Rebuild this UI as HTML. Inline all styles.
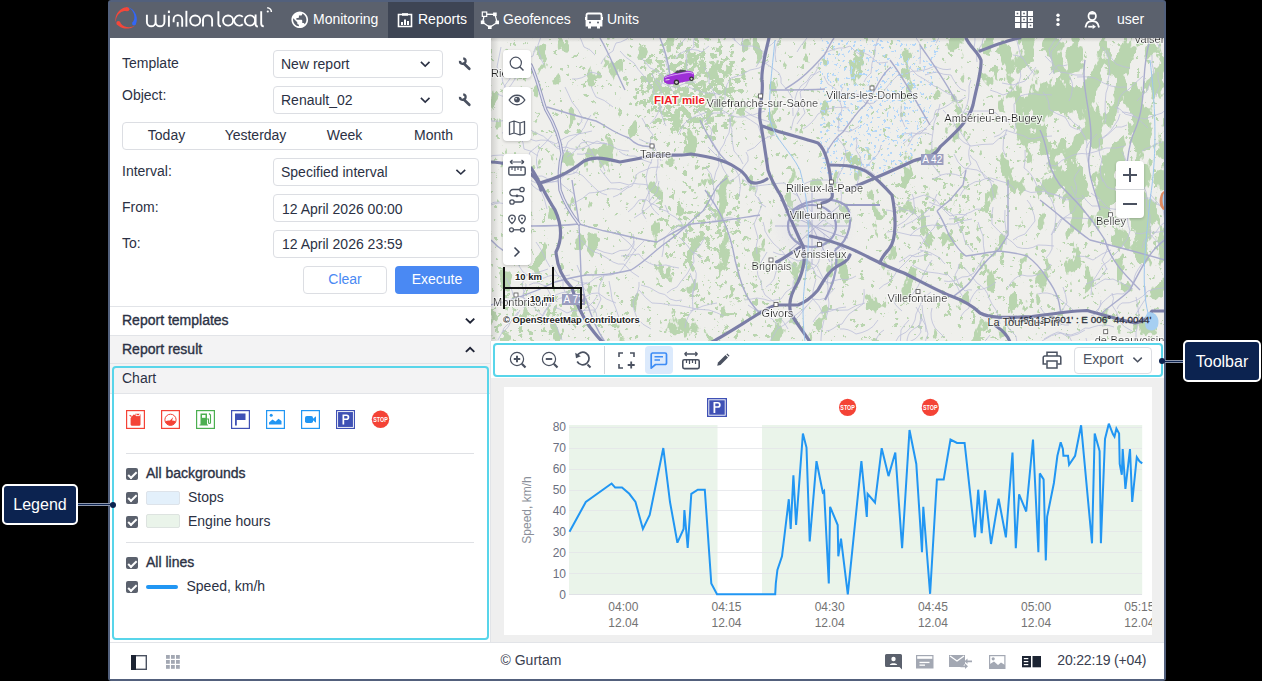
<!DOCTYPE html>
<html><head><meta charset="utf-8">
<style>
*{box-sizing:border-box;margin:0;padding:0}
html,body{width:1262px;height:681px;overflow:hidden;background:#000;font-family:"Liberation Sans",sans-serif;color:#2b3144}
.a{position:absolute}
.t{position:absolute;white-space:nowrap;line-height:1}
.sel{position:absolute;border:1px solid #dcdee3;border-radius:4px;background:#fff}
.chev{position:absolute;width:6px;height:6px;border-right:1.5px solid #2b3144;border-bottom:1.5px solid #2b3144;transform:rotate(45deg)}
.cb{position:absolute;width:12px;height:12px;background:#5b616d;border-radius:2px}
.cb:after{content:"";position:absolute;left:4.2px;top:1.6px;width:3.4px;height:6.6px;border-right:2px solid #fff;border-bottom:2px solid #fff;transform:rotate(45deg)}
.ic{position:absolute;width:19px;height:19px;border:1.5px solid}
.callout{position:absolute;background:#0c2350;border:2px solid #fff;border-radius:5px;color:#fff;font-size:16px}
</style></head>
<body>
<!-- frame -->
<div class="a" style="left:108px;top:0;width:1058px;height:681px;background:#52607c;border-radius:3px"></div>
<div class="a" style="left:110px;top:2px;width:1054px;height:677px;background:#fff"></div>
<!-- header -->
<div class="a" style="left:110px;top:2px;width:1054px;height:36px;background:#5b616d"></div>
<div class="a" style="left:388px;top:2px;width:86px;height:36px;background:#3e4554"></div>
<!-- logo -->
<svg class="a" style="left:0;top:0" width="290" height="38" viewBox="0 0 290 38">
<path d="M127.47 7.16 L126.74 7.20 L126.02 7.29 L125.31 7.42 L124.62 7.60 L123.94 7.81 L123.29 8.06 L122.65 8.35 L122.04 8.67 L121.45 9.02 L120.88 9.40 L120.34 9.81 L119.82 10.24 L119.32 10.70 L118.85 11.18 L118.41 11.68 L117.99 12.20 L117.60 12.75 L117.24 13.32 L116.90 13.90 L116.59 14.51 L116.32 15.13 L116.08 15.78 L115.87 16.44 L115.70 17.11 L115.56 17.80 L115.47 18.50 L115.42 19.21 L115.41 19.93 L115.45 20.66 L115.53 21.39 L115.92 21.28 L115.94 20.55 L116.01 19.84 L116.12 19.15 L116.28 18.49 L116.48 17.84 L116.71 17.22 L116.98 16.63 L117.27 16.07 L117.60 15.54 L117.95 15.04 L118.32 14.57 L118.70 14.12 L119.11 13.71 L119.52 13.33 L119.96 12.98 L120.40 12.65 L120.85 12.36 L121.31 12.09 L121.77 11.85 L122.24 11.64 L122.72 11.46 L123.20 11.30 L123.69 11.18 L124.18 11.09 L124.66 11.03 L125.15 11.00 L125.64 11.01 L126.11 11.05 L126.58 11.15 L127.03 11.34Z" fill="#f4473a"/><circle cx="127.25" cy="9.25" r="2.10" fill="#f4473a"/><path d="M116.60 23.90 L117.04 24.44 L117.51 24.94 L118.01 25.41 L118.52 25.84 L119.06 26.25 L119.61 26.62 L120.18 26.95 L120.76 27.26 L121.35 27.53 L121.95 27.77 L122.56 27.98 L123.17 28.16 L123.79 28.31 L124.42 28.43 L125.04 28.52 L125.68 28.59 L126.31 28.62 L126.95 28.62 L127.59 28.60 L128.23 28.54 L128.87 28.45 L129.51 28.33 L130.14 28.18 L130.78 27.99 L131.40 27.76 L132.02 27.50 L132.63 27.20 L133.22 26.87 L133.80 26.49 L134.36 26.08 L134.07 25.80 L133.46 26.13 L132.85 26.41 L132.23 26.64 L131.60 26.83 L130.98 26.98 L130.36 27.09 L129.75 27.16 L129.14 27.20 L128.55 27.20 L127.97 27.17 L127.40 27.11 L126.85 27.02 L126.31 26.91 L125.79 26.77 L125.28 26.61 L124.79 26.42 L124.32 26.22 L123.86 26.00 L123.42 25.75 L123.00 25.49 L122.59 25.21 L122.21 24.92 L121.84 24.60 L121.50 24.27 L121.18 23.92 L120.88 23.56 L120.61 23.18 L120.38 22.78 L120.18 22.36 L120.06 21.90Z" fill="#f4473a"/><circle cx="118.33" cy="22.90" r="2.00" fill="#f4473a"/><path d="M135.59 24.56 L135.90 23.89 L136.16 23.20 L136.38 22.50 L136.56 21.79 L136.68 21.08 L136.77 20.37 L136.81 19.66 L136.81 18.96 L136.77 18.26 L136.70 17.57 L136.58 16.89 L136.43 16.22 L136.25 15.56 L136.03 14.91 L135.78 14.28 L135.50 13.65 L135.18 13.05 L134.84 12.46 L134.46 11.88 L134.04 11.33 L133.60 10.79 L133.13 10.28 L132.62 9.79 L132.08 9.33 L131.51 8.90 L130.91 8.50 L130.29 8.13 L129.63 7.80 L128.95 7.51 L128.24 7.27 L128.19 7.57 L128.86 7.90 L129.48 8.27 L130.07 8.67 L130.62 9.11 L131.14 9.58 L131.61 10.06 L132.04 10.57 L132.43 11.09 L132.79 11.63 L133.10 12.18 L133.38 12.73 L133.62 13.29 L133.82 13.85 L134.00 14.41 L134.13 14.97 L134.24 15.54 L134.31 16.09 L134.36 16.65 L134.37 17.19 L134.35 17.74 L134.31 18.27 L134.23 18.80 L134.12 19.32 L133.99 19.82 L133.82 20.31 L133.62 20.79 L133.39 21.25 L133.12 21.69 L132.81 22.09 L132.43 22.44Z" fill="#3366f6"/><circle cx="134.01" cy="23.50" r="1.90" fill="#3366f6"/>
<g fill="none" stroke="#fff" stroke-width="1.9">
<path d="M146.9 14.7V21.9A4.3 4.3 0 0 0 155.6 21.9V14.7M155.6 21.9A4.4 4.4 0 0 0 164.4 21.9V14.7"/>
<path d="M168.9 15.6V26.7"/>
<path d="M173.6 22.2V19.4A4.3 4.3 0 0 1 182.2 19.4V26.7"/>
<path d="M177.7 22V26.7"/>
<path d="M186.4 10.8V26.7"/>
<circle cx="195.2" cy="20.6" r="5.05"/>
<path d="M203 26.6V19.3A4.6 4.6 0 0 1 212.1 19.3V26.6"/>
<path d="M218.4 11.3V23.4A3 3 0 0 0 221 26.4"/>
<circle cx="228.1" cy="20.6" r="5.05"/>
<path d="M242.8 16.9A5.05 5.05 0 1 0 242.8 24.3"/>
<circle cx="250" cy="20.5" r="5.15"/>
<path d="M255.6 14.6V24.2C255.6 25.6 256.4 26.4 257.9 26.6"/>
<path d="M261.2 11.3V23.4A3 3 0 0 0 263.8 26.4"/>
<path d="M267.2 7.7A4.4 4.4 0 0 1 271.4 12" stroke-width="1.5"/>
</g>
<rect x="167.9" y="10.6" width="2" height="2.4" fill="#fff"/>
<circle cx="267.8" cy="11.5" r="1.1" fill="#fff"/>
</svg>
<!-- tabs -->
<svg class="a" style="left:291.3px;top:10.8px" width="17.5" height="17.5" viewBox="1.5 1.5 21 21"><path fill="#fff" d="M12 2C6.48 2 2 6.48 2 12s4.48 10 10 10 10-4.48 10-10S17.52 2 12 2zm-1 17.93c-3.95-.49-7-3.85-7-7.93 0-.62.08-1.21.21-1.79L9 15v1c0 1.1.9 2 2 2v1.93zm6.9-2.54c-.26-.81-1-1.39-1.9-1.39h-1v-3c0-.55-.45-1-1-1H8v-2h2c.55 0 1-.45 1-1V7h2c1.1 0 2-.9 2-2v-.41c2.93 1.19 5 4.06 5 7.41 0 2.08-.8 3.97-2.1 5.39z"/></svg>
<div class="t" style="left:313px;top:12px;font-size:14px;color:#fff">Monitoring</div>
<svg class="a" style="left:397px;top:11px" width="16" height="17" viewBox="0 0 16 17"><path d="M1.5 3.5h13v12h-13z" stroke="#fff" stroke-width="1.6" fill="none"/><path d="M5 2.2h6v2.5H5z" fill="#fff"/><rect x="4" y="11" width="2" height="3" fill="#fff"/><rect x="7" y="8.5" width="2" height="5.5" fill="#fff"/><rect x="10" y="10" width="2" height="4" fill="#fff"/></svg>
<div class="t" style="left:418px;top:12px;font-size:14px;color:#fff">Reports</div>
<svg class="a" style="left:478px;top:8px" width="24" height="24" viewBox="478 8 24 24"><path d="M484.5 14.2 L494.9 14.3 L497.2 22.4 L489.8 27.2 L482.6 22.3 Z" fill="none" stroke="#fff" stroke-width="1.25"/><rect x="482.3" y="12" width="4.4" height="4.4" fill="#5b616d" stroke="#fff" stroke-width="1.2"/><rect x="493.1" y="12.5" width="3.6" height="3.6" fill="#fff"/><rect x="495.4" y="20.6" width="3.6" height="3.6" fill="#fff"/><rect x="488" y="25.4" width="3.6" height="3.6" fill="#fff"/><rect x="480.8" y="20.5" width="3.6" height="3.6" fill="#fff"/></svg>
<div class="t" style="left:503px;top:12px;font-size:14px;color:#fff">Geofences</div>
<svg class="a" style="left:585px;top:12px" width="18" height="17" viewBox="0 0 18 17"><path d="M3 1.5h12a1.5 1.5 0 0 1 1.5 1.5v10.5h-15V3A1.5 1.5 0 0 1 3 1.5z" stroke="#fff" stroke-width="1.8" fill="none"/><rect x="1.5" y="8" width="15" height="5.5" fill="#fff"/><rect x="3" y="13" width="3" height="3.5" fill="#fff"/><rect x="12" y="13" width="3" height="3.5" fill="#fff"/><rect x="0" y="5" width="1.5" height="3" fill="#fff"/><rect x="16.5" y="5" width="1.5" height="3" fill="#fff"/><circle cx="5" cy="10.5" r="1" fill="#5b616d"/><circle cx="13" cy="10.5" r="1" fill="#5b616d"/></svg>
<div class="t" style="left:607px;top:12px;font-size:14px;color:#fff">Units</div>
<!-- right header -->
<svg class="a" style="left:1015px;top:11px" width="18" height="17" viewBox="0 0 18 17">
 <g fill="#fff">
 <rect x="0" y="0" width="5" height="5"/><rect x="6.5" y="0" width="5" height="5"/><rect x="13" y="0" width="5" height="5"/>
 <rect x="0" y="6" width="5" height="5"/><rect x="6.5" y="6" width="5" height="5"/><rect x="13" y="6" width="5" height="5"/>
 <rect x="0" y="12" width="5" height="5"/><rect x="6.5" y="12" width="5" height="5"/><rect x="13" y="12" width="5" height="5"/>
 </g>
 <g fill="#5b616d"><rect x="1.7" y="1.7" width="1.6" height="1.6"/><rect x="8.2" y="1.7" width="1.6" height="1.6"/><rect x="8.2" y="7.7" width="1.6" height="1.6"/><rect x="14.7" y="7.7" width="1.6" height="1.6"/><rect x="14.7" y="13.7" width="1.6" height="1.6"/></g>
</svg>
<svg class="a" style="left:1054px;top:12px" width="8" height="16" viewBox="0 0 8 16"><circle cx="4" cy="3.3" r="1.7" fill="#fff"/><circle cx="4" cy="7.8" r="1.7" fill="#fff"/><circle cx="4" cy="12.4" r="1.7" fill="#fff"/></svg>
<svg class="a" style="left:1080px;top:8px" width="24" height="24" viewBox="1080 8 24 24"><ellipse cx="1092.2" cy="16" rx="3.7" ry="4.2" fill="none" stroke="#fff" stroke-width="1.8"/><path d="M1088.6 14.5 C1089 11.5 1095.4 11.5 1095.8 14.5z" fill="#fff"/><path d="M1085.4 27.6 L1086.6 23.8 C1087.6 21.8 1089.6 21.1 1092.2 21.1 C1094.8 21.1 1096.8 21.8 1097.8 23.8 L1099 27.6" fill="none" stroke="#fff" stroke-width="1.8"/><rect x="1088.2" y="25.8" width="4.6" height="1.8" fill="#fff"/><path d="M1092.6 24.3 L1096 26.7 L1092.6 29.1z" fill="#fff"/></svg>
<div class="t" style="left:1117px;top:12px;font-size:14px;color:#fff">user</div>
<!-- left panel form -->
<div class="t" style="left:122px;top:56px;font-size:14px">Template</div>
<div class="t" style="left:122px;top:87.5px;font-size:14px">Object:</div>
<div class="sel" style="left:273px;top:50px;width:170px;height:28px"></div>
<div class="t" style="left:281px;top:57px;font-size:14px">New report</div>
<svg class="a" style="left:418px;top:58px" width="13" height="10"><path d="M2.90 3.90 L7.20 8.10 L11.50 3.90" fill="none" stroke="#2b3144" stroke-width="1.6"/></svg>
<div class="sel" style="left:273px;top:86px;width:170px;height:28px"></div>
<div class="t" style="left:281px;top:93px;font-size:14px">Renault_02</div>
<svg class="a" style="left:418px;top:94px" width="13" height="10"><path d="M2.90 3.90 L7.20 8.10 L11.50 3.90" fill="none" stroke="#2b3144" stroke-width="1.6"/></svg>
<svg class="a" style="left:455px;top:55px" width="20" height="18" viewBox="455 55 20 18"><path d="M460 60.8 A2.8 2.8 0 1 0 463.2 58.3" fill="none" stroke="#4a5160" stroke-width="2.3"/><path d="M463.8 63.6 L469.3 68.8" stroke="#4a5160" stroke-width="2.7" stroke-linecap="round"/></svg>
<svg class="a" style="left:455px;top:91px" width="20" height="18" viewBox="455 55 20 18"><path d="M460 60.8 A2.8 2.8 0 1 0 463.2 58.3" fill="none" stroke="#4a5160" stroke-width="2.3"/><path d="M463.8 63.6 L469.3 68.8" stroke="#4a5160" stroke-width="2.7" stroke-linecap="round"/></svg>
<div class="sel" style="left:122px;top:122px;width:356px;height:28px"></div>
<div class="t" style="left:122px;top:128px;width:89px;text-align:center;font-size:14px">Today</div>
<div class="t" style="left:211px;top:128px;width:89px;text-align:center;font-size:14px">Yesterday</div>
<div class="t" style="left:300px;top:128px;width:89px;text-align:center;font-size:14px">Week</div>
<div class="t" style="left:389px;top:128px;width:89px;text-align:center;font-size:14px">Month</div>
<div class="t" style="left:122px;top:164.4px;font-size:14px">Interval:</div>
<div class="sel" style="left:273px;top:158px;width:206px;height:28px"></div>
<div class="t" style="left:281px;top:165.4px;font-size:14px">Specified interval</div>
<svg class="a" style="left:454px;top:166px" width="13" height="10"><path d="M2.40 3.80 L6.80 8.00 L11.20 3.80" fill="none" stroke="#2b3144" stroke-width="1.6"/></svg>
<div class="t" style="left:122px;top:200.2px;font-size:14px">From:</div>
<div class="sel" style="left:273px;top:194px;width:206px;height:28px"></div>
<div class="t" style="left:282px;top:201.8px;font-size:14px">12 April 2026 00:00</div>
<div class="t" style="left:122px;top:235.5px;font-size:14px">To:</div>
<div class="sel" style="left:273px;top:230px;width:206px;height:28px"></div>
<div class="t" style="left:282px;top:237px;font-size:14px">12 April 2026 23:59</div>
<div class="sel" style="left:303px;top:266px;width:84px;height:28px"></div>
<div class="t" style="left:303px;top:272px;width:84px;text-align:center;font-size:14px;color:#4a89f3">Clear</div>
<div class="a" style="left:395px;top:266px;width:84px;height:28px;background:#4a89f3;border-radius:4px"></div>
<div class="t" style="left:395px;top:272px;width:84px;text-align:center;font-size:14px;color:#fff">Execute</div>
<!-- sections -->
<div class="a" style="left:110px;top:306px;width:381px;height:1px;background:#e2e4e8"></div>
<div class="t" style="left:122px;top:313.2px;font-size:14px;-webkit-text-stroke:0.35px #2b3144">Report templates</div>
<svg class="a" style="left:463px;top:315px" width="13" height="10"><path d="M2.90 3.60 L7.10 7.60 L11.30 3.60" fill="none" stroke="#1f2436" stroke-width="1.9"/></svg>
<div class="a" style="left:110px;top:335px;width:381px;height:29px;background:#f3f3f4;border-top:1px solid #e2e4e8;border-bottom:1px solid #e2e4e8"></div>
<div class="t" style="left:122px;top:342px;font-size:14px;-webkit-text-stroke:0.35px #2b3144">Report result</div>
<svg class="a" style="left:463px;top:344px" width="13" height="10"><path d="M2.90 7.90 L7.10 3.90 L11.30 7.90" fill="none" stroke="#1f2436" stroke-width="1.9"/></svg>
<div class="a" style="left:110px;top:364px;width:381px;height:30px;background:#f3f3f4;border-bottom:1px solid #e2e4e8"></div>
<div class="t" style="left:122px;top:370.8px;font-size:14px">Chart</div>
<div class="a" style="left:490px;top:341px;width:1px;height:302px;background:#e2e4e8"></div>
<!-- legend icons -->
<svg class="a" style="left:126px;top:410px" width="19" height="19" viewBox="0 0 19 19"><rect x="0.6" y="0.6" width="17.8" height="17.8" fill="none" stroke="#f44336" stroke-width="1.2"/><path d="M4.6 8 L7.6 4.6 L8.6 4.9 L9.3 3.8 H13.4 A1.1 1.1 0 0 1 14.5 4.9 V14.6 A1.1 1.1 0 0 1 13.4 15.7 H5.7 A1.1 1.1 0 0 1 4.6 14.6z" fill="#f44336"/><path d="M10 3.8 V5.6 H13.6 V3.8" stroke="#fff" stroke-width="0.9" fill="none"/><path d="M3.6 5.3 L5.6 6.5" stroke="#f44336" stroke-width="1.2"/></svg>
<svg class="a" style="left:161px;top:410px" width="19" height="19" viewBox="0 0 19 19"><rect x="0.6" y="0.6" width="17.8" height="17.8" fill="none" stroke="#f44336" stroke-width="1.2"/><circle cx="9.5" cy="9.8" r="5.6" fill="none" stroke="#f44336" stroke-width="1"/><path d="M4.2 11.6 Q6.5 10.2 9 10.6 L12.3 6.9 L11 10.4 Q13.5 10.4 14.8 11.6 A5.6 5.6 0 0 1 4.2 11.6z" fill="#f44336"/></svg>
<svg class="a" style="left:196px;top:410px" width="19" height="19" viewBox="0 0 19 19"><rect x="0.6" y="0.6" width="17.8" height="17.8" fill="none" stroke="#4caf50" stroke-width="1.2"/><path d="M4.5 3.5 H11 V14.5 H12 V15.5 H3.5 V14.5 H4.5z" fill="#4caf50"/><rect x="6" y="5" width="3.5" height="2.8" fill="#fff"/><path d="M13 3.5 L14.5 5 V12.5 A1 1 0 0 1 12.5 12.5 V9 H11" stroke="#4caf50" stroke-width="1.1" fill="none"/></svg>
<svg class="a" style="left:231px;top:410px" width="19" height="19" viewBox="0 0 19 19"><rect x="0.6" y="0.6" width="17.8" height="17.8" fill="none" stroke="#3f51b5" stroke-width="1.2"/><path d="M4 3.5 H14.5 V10 H5.8 V15.5 H4z" fill="#3f51b5"/></svg>
<svg class="a" style="left:266px;top:410px" width="19" height="19" viewBox="0 0 19 19"><rect x="0.6" y="0.6" width="17.8" height="17.8" fill="none" stroke="#2196f3" stroke-width="1.2"/><circle cx="5.2" cy="5.2" r="1.5" fill="#2196f3"/><path d="M3 14.5 V12.5 L6.5 9.5 L9.5 11.5 L12.5 8.8 L15.5 11 V14.5z" fill="#2196f3"/></svg>
<svg class="a" style="left:301px;top:410px" width="19" height="19" viewBox="0 0 19 19"><rect x="0.6" y="0.6" width="17.8" height="17.8" fill="none" stroke="#2196f3" stroke-width="1.2"/><rect x="4" y="6" width="8" height="7" rx="1.8" fill="#2196f3"/><path d="M11 9.5 L15 6.2 V12.8z" fill="#2196f3"/></svg>
<svg class="a" style="left:336px;top:410px" width="19" height="19" viewBox="0 0 19 19"><rect x="0" y="0" width="19" height="19" fill="#3f51b5"/><rect x="1.6" y="1.6" width="15.8" height="15.8" fill="none" stroke="#fff" stroke-width="0.9"/><path d="M6.5 14.5 V4.5 H10.5 A2.8 2.8 0 0 1 10.5 10.1 H8.2 V14.5z M8.2 6 V8.6 H10.3 A1.3 1.3 0 0 0 10.3 6z" fill="#fff" fill-rule="evenodd"/></svg>
<svg class="a" style="left:371px;top:410px" width="19" height="19" viewBox="0 0 19 19"><circle cx="9.5" cy="9.3" r="8.7" fill="#f44336"/><text x="0" y="0" transform="translate(9.5 11.8) scale(0.72 1)" text-anchor="middle" font-family="Liberation Sans" font-weight="700" font-size="7.5" fill="#fff">STOP</text></svg>
<!-- legend list -->
<div class="a" style="left:126px;top:453px;width:348px;height:1px;background:#dfe1e5"></div>
<div class="cb" style="left:126px;top:468px"></div>
<div class="t" style="left:146px;top:466px;font-size:14px;-webkit-text-stroke:0.35px #2b3144">All backgrounds</div>
<div class="cb" style="left:126px;top:491.8px"></div>
<div class="a" style="left:146px;top:491px;width:34px;height:14px;background:#e3f0fb;border:1px solid #dde3ea;border-radius:2px"></div>
<div class="t" style="left:188px;top:489.8px;font-size:14px">Stops</div>
<div class="cb" style="left:126px;top:515.5px"></div>
<div class="a" style="left:146px;top:514px;width:34px;height:14px;background:#eaf4ea;border:1px solid #dde3e0;border-radius:2px"></div>
<div class="t" style="left:188px;top:513.6px;font-size:14px">Engine hours</div>
<div class="a" style="left:126px;top:542px;width:348px;height:1px;background:#dfe1e5"></div>
<div class="cb" style="left:126px;top:557px"></div>
<div class="t" style="left:146px;top:555px;font-size:14px;-webkit-text-stroke:0.35px #2b3144">All lines</div>
<div class="cb" style="left:126px;top:581px"></div>
<div class="a" style="left:146px;top:585px;width:32px;height:4px;background:#2196f3;border-radius:2px"></div>
<div class="t" style="left:186.5px;top:578.8px;font-size:14px">Speed, km/h</div>
<!-- footer -->
<div class="a" style="left:110px;top:642px;width:1054px;height:1px;background:#e2e4e8"></div>
<svg class="a" style="left:131px;top:654.5px" width="16" height="15" viewBox="0 0 16 15"><rect x="0.7" y="0.7" width="14.6" height="13.6" fill="none" stroke="#4a5160" stroke-width="1.4"/><rect x="0" y="0" width="5" height="15" fill="#1c2433"/></svg>
<svg class="a" style="left:166px;top:655px" width="14" height="14" viewBox="0 0 14 14"><g fill="#a3a8b3"><rect x="0" y="0" width="3.8" height="3.8"/><rect x="5" y="0" width="3.8" height="3.8"/><rect x="10" y="0" width="3.8" height="3.8"/><rect x="0" y="5" width="3.8" height="3.8"/><rect x="5" y="5" width="3.8" height="3.8"/><rect x="10" y="5" width="3.8" height="3.8"/><rect x="0" y="10" width="3.8" height="3.8"/><rect x="5" y="10" width="3.8" height="3.8"/><rect x="10" y="10" width="3.8" height="3.8"/></g></svg>
<div class="t" style="left:500.5px;top:653.2px;font-size:14px;color:#3a4050">© Gurtam</div>
<svg class="a" style="left:885px;top:653.5px" width="18" height="16" viewBox="0 0 18 16"><path d="M1.5 0 H15.5 A1.5 1.5 0 0 1 17 1.5 V15.5 L14.5 13 H1.5 A1.5 1.5 0 0 1 0 11.5 V1.5 A1.5 1.5 0 0 1 1.5 0z" fill="#5b616d"/><circle cx="8.5" cy="5" r="2.2" fill="#fff"/><path d="M4.8 11 C4.8 8.5 12.2 8.5 12.2 11z" fill="#fff"/></svg>
<svg class="a" style="left:916px;top:655px" width="18" height="14" viewBox="0 0 18 14"><rect x="0" y="0" width="17.5" height="13.5" fill="#a3a8b3"/><rect x="1.2" y="1.2" width="15.1" height="2.6" fill="#fff"/><rect x="3.5" y="6.8" width="10" height="1.3" fill="#fff"/><rect x="3.5" y="9.5" width="5.5" height="1.3" fill="#fff"/></svg>
<svg class="a" style="left:949px;top:655px" width="24" height="14" viewBox="0 0 24 14"><path d="M0 0 H16 V9 L13 12 H0z" fill="#a3a8b3"/><path d="M1 1 L8 6 L15 1" stroke="#fff" stroke-width="1.3" fill="none"/><path d="M11.5 10.5 H16 V8.5 L19 11.3 L16 14 V12.2 H11.5z" fill="#a3a8b3"/><path d="M23 5.5 H18.5 V3.5 L15.5 6.3 L18.5 9 V7.2 H23z" fill="#a3a8b3"/></svg>
<svg class="a" style="left:988.5px;top:655px" width="17" height="14" viewBox="0 0 17 14"><rect x="0.6" y="0.6" width="15.3" height="12.8" fill="none" stroke="#a3a8b3" stroke-width="1.2"/><circle cx="4.2" cy="3.8" r="1.6" fill="#a3a8b3"/><path d="M1 13 V9 L5 6.5 L9 10 L12 7.5 L16 10 V13z" fill="#a3a8b3"/></svg>
<svg class="a" style="left:1022px;top:655.5px" width="19" height="12" viewBox="0 0 19 12"><rect x="0" y="0" width="9" height="11.3" fill="#1c2433"/><rect x="10.5" y="0" width="8.5" height="11.3" fill="#1c2433"/><rect x="1.8" y="2" width="4.5" height="1.2" fill="#fff"/><rect x="1.8" y="5" width="4.5" height="1.2" fill="#fff"/><rect x="1.8" y="8" width="4.5" height="1.2" fill="#fff"/></svg>
<div class="t" style="left:1057.3px;top:653.2px;font-size:14px;color:#3a4050;letter-spacing:-0.18px">20:22:19 (+04)</div>
<svg class="a" style="left:491px;top:38px" width="673" height="304" viewBox="491 38 673 304">
<defs>
<filter id="gd" x="491" y="38" width="673" height="304" filterUnits="userSpaceOnUse" color-interpolation-filters="sRGB">
<feGaussianBlur in="SourceGraphic" stdDeviation="14" result="dens"/>
<feTurbulence type="fractalNoise" baseFrequency="0.17" numOctaves="4" seed="4"/>
<feColorMatrix type="matrix" values="1 0 0 0 0  1 0 0 0 0  1 0 0 0 0  0 0 0 0 1" result="noise"/>
<feComposite in="noise" in2="dens" operator="arithmetic" k1="0" k2="1" k3="1" k4="0"/>
<feColorMatrix type="matrix" values="0 0 0 0 0.725  0 0 0 0 0.835  0 0 0 0 0.685  32 0 0 0 -22.2"/>
</filter>
<filter id="g2" x="491" y="38" width="673" height="304" filterUnits="userSpaceOnUse" color-interpolation-filters="sRGB">
<feGaussianBlur in="SourceGraphic" stdDeviation="18" result="dens"/>
<feTurbulence type="fractalNoise" baseFrequency="0.06 0.035" numOctaves="4" seed="9"/>
<feColorMatrix type="matrix" values="1 0 0 0 0  1 0 0 0 0  1 0 0 0 0  0 0 0 0 1" result="noise"/>
<feComposite in="noise" in2="dens" operator="arithmetic" k1="0" k2="1" k3="1" k4="0"/>
<feColorMatrix type="matrix" values="0 0 0 0 0.725  0 0 0 0 0.835  0 0 0 0 0.685  32 0 0 0 -20.8"/>
</filter>
<filter id="g3" x="0" y="0" width="100%" height="100%" color-interpolation-filters="sRGB"><feTurbulence type="fractalNoise" baseFrequency="0.3" numOctaves="2" seed="2"/><feColorMatrix type="matrix" values="0 0 0 0 0.70  0 0 0 0 0.84  0 0 0 0 0.98  30 0 0 0 -19.2"/></filter>
<filter id="blur8" x="-50%" y="-50%" width="200%" height="200%"><feGaussianBlur stdDeviation="8"/></filter>
<filter id="halo"><feMorphology in="SourceAlpha" operator="dilate" radius="1.1" result="d"/><feFlood flood-color="#fff" flood-opacity="0.8"/><feComposite in2="d" operator="in"/><feMerge><feMergeNode/><feMergeNode in="SourceGraphic"/></feMerge></filter>
<clipPath id="c1"><path d="M491 38H990V342H491z"/></clipPath>
<clipPath id="c2"><path d="M985 38H1165V270C1120 250 1060 230 1030 190 1010 150 995 100 985 38z"/></clipPath>
<clipPath id="c4"><path d="M615 38H745V135C720 130 690 125 650 115 630 95 618 60 615 38z M950 170C990 150 1040 190 1060 230 1040 250 1000 240 960 210z"/></clipPath>
<clipPath id="c3"><path d="M820 40H940C935 90 930 140 900 175H820z"/></clipPath>
</defs>
<rect x="491" y="38" width="673" height="304" fill="#efefec"/>
<g filter="url(#gd)"><rect x="491" y="38" width="673" height="304" fill="#000"/><ellipse cx="690" cy="90" rx="55" ry="48" fill="rgb(66,0,0)"/><ellipse cx="530" cy="320" rx="60" ry="35" fill="rgb(22,0,0)"/><ellipse cx="940" cy="215" rx="60" ry="45" fill="rgb(22,0,0)"/><ellipse cx="705" cy="225" rx="45" ry="35" fill="rgb(42,0,0)"/><ellipse cx="730" cy="300" rx="60" ry="45" fill="rgb(20,0,0)"/><ellipse cx="1000" cy="300" rx="70" ry="40" fill="rgb(14,0,0)"/></g>
<g filter="url(#g2)"><rect x="491" y="38" width="673" height="304" fill="#000"/><path d="M1000 20H1185V290C1130 270 1070 240 1040 200 1015 160 1000 100 990 20z" fill="rgb(48,0,0)"/></g>
<g clip-path="url(#c3)"><rect x="491" y="38" width="673" height="304" filter="url(#g3)"/></g>
<g fill="none" stroke="#bcbfd9" stroke-width="0.8"><path d="M709 84 Q709 80 709 75 Q706 71 704 67"/><path d="M862 56 Q854 51 850 46 Q844 49 839 48 Q831 50 824 53"/><path d="M951 69 Q943 71 935 66 Q927 70 919 71 Q912 70 905 74"/><path d="M962 112 Q957 103 955 96 Q949 95 942 90 Q939 87 934 86 Q925 79 917 75 Q911 68 905 64"/><path d="M1128 182 Q1127 176 1126 170 Q1128 161 1122 152"/><path d="M1125 146 Q1117 149 1106 148 Q1099 151 1087 154 Q1077 152 1067 158 Q1062 159 1056 166 Q1051 166 1046 163"/><path d="M648 185 Q643 184 638 184 Q634 182 629 185 Q620 181 611 183 Q606 177 600 169"/><path d="M757 184 Q758 190 755 195 Q758 197 760 202 Q762 205 766 207"/><path d="M591 115 Q589 117 586 123 Q585 127 580 133 Q573 138 568 142 Q565 151 559 161"/><path d="M1107 268 Q1104 274 1100 278 Q1092 282 1086 284"/><path d="M641 285 Q649 286 659 293 Q665 293 670 299 Q676 302 682 300"/><path d="M792 323 Q796 319 799 316 Q807 305 813 299 Q819 301 826 298 Q831 292 835 288"/><path d="M1090 170 Q1087 160 1086 149 Q1089 140 1097 134"/><path d="M593 313 Q597 309 601 299 Q597 292 600 284 Q603 279 604 275"/><path d="M1156 97 Q1156 92 1160 86 Q1157 79 1158 72"/><path d="M729 177 Q722 170 720 159 Q719 150 712 141 Q710 136 712 131 Q711 127 707 124 Q705 119 696 109"/><path d="M620 51 Q624 57 634 63 Q638 70 643 75 Q648 83 653 87 Q653 95 661 106 Q660 114 666 126"/><path d="M573 172 Q578 172 583 176 Q589 183 598 191 Q602 194 607 195"/><path d="M554 307 Q561 309 567 313 Q574 309 580 311 Q586 310 594 310"/><path d="M912 194 Q914 197 914 203 Q916 209 912 214 Q906 222 897 226"/><path d="M1111 211 Q1102 202 1098 197 Q1094 196 1091 193"/><path d="M901 106 Q901 111 901 118 Q903 122 905 127"/><path d="M565 87 Q568 93 572 102 Q579 110 582 117 Q583 121 579 125"/><path d="M1150 194 Q1157 202 1163 209 Q1164 215 1165 222 Q1159 226 1156 232 Q1151 238 1145 239 Q1143 244 1142 248"/><path d="M601 64 Q604 56 613 51 Q614 47 616 43 Q620 43 627 39 Q630 34 634 31"/><path d="M679 237 Q688 245 692 252 Q697 253 702 259"/><path d="M1136 297 Q1138 306 1139 315 Q1137 320 1138 325 Q1135 332 1136 339 Q1129 343 1122 351 Q1120 360 1122 369"/><path d="M1135 233 Q1141 235 1148 232 Q1157 233 1165 231"/><path d="M821 39 Q824 35 826 32 Q826 26 824 20"/><path d="M990 335 Q984 344 975 350 Q970 353 966 355 Q957 361 949 360 Q942 365 935 365 Q929 371 925 376"/><path d="M805 271 Q809 269 814 268 Q820 263 820 254 Q826 244 824 234"/><path d="M552 265 Q557 275 563 281 Q562 287 565 292 Q569 294 572 296 Q577 296 582 298"/><path d="M1057 39 Q1053 28 1044 22 Q1038 17 1033 16 Q1027 13 1022 8 Q1018 9 1013 9 Q1008 5 1004 2"/><path d="M619 151 Q625 157 635 156 Q644 161 652 163"/><path d="M795 267 Q789 261 782 251 Q776 246 773 243 Q768 237 765 231 Q765 228 763 222"/><path d="M828 285 Q822 278 817 266 Q813 265 809 261 Q803 259 798 261 Q791 258 785 255 Q779 255 773 252"/><path d="M1143 76 Q1136 82 1128 90 Q1122 92 1119 99 Q1117 105 1118 113"/><path d="M1144 187 Q1147 192 1147 198 Q1145 207 1150 215 Q1150 224 1150 234 Q1158 243 1163 247 Q1168 252 1169 258"/><path d="M920 250 Q930 251 940 258 Q942 261 945 264"/><path d="M679 134 Q680 131 684 124 Q687 120 694 117 Q700 115 707 112"/><path d="M1115 107 Q1120 108 1125 114 Q1135 117 1145 119 Q1152 116 1162 113 Q1167 108 1178 100"/><path d="M902 311 Q898 308 895 304 Q892 299 895 294"/><path d="M756 311 Q767 309 777 314 Q785 323 788 329"/><path d="M746 152 Q749 156 748 161 Q742 168 740 174 Q734 180 730 181"/><path d="M966 97 Q960 102 954 101 Q944 109 936 110 Q934 114 934 118 Q928 127 920 134 Q912 132 904 134"/><path d="M704 122 Q708 120 712 113 Q718 113 725 113"/><path d="M824 320 Q821 330 821 339 Q820 344 823 352 Q830 355 835 366 Q843 369 851 366"/><path d="M1086 338 Q1086 345 1092 351 Q1097 355 1101 356"/><path d="M649 202 Q652 196 657 192 Q658 186 659 181"/><path d="M650 124 Q656 118 658 113 Q662 105 662 94 Q660 87 655 81"/><path d="M1107 50 Q1109 56 1116 64 Q1123 67 1130 68"/><path d="M1013 240 Q1018 236 1025 234 Q1031 226 1035 221 Q1035 216 1032 209 Q1031 204 1027 200"/><path d="M534 69 Q530 70 525 72 Q521 73 515 79 Q511 86 505 92"/><path d="M1074 341 Q1068 347 1067 353 Q1069 358 1068 362 Q1074 369 1074 380"/><path d="M587 283 Q582 286 577 285 Q574 288 571 292 Q562 291 552 297 Q549 306 543 316"/><path d="M920 64 Q921 54 920 44 Q917 40 913 32 Q913 27 915 22"/><path d="M1145 286 Q1146 292 1146 298 Q1140 307 1136 314"/><path d="M659 156 Q657 160 658 164 Q655 172 657 181 Q655 187 649 192 Q645 200 642 210 Q642 214 646 219"/><path d="M977 62 Q975 53 982 44 Q983 35 990 29 Q996 28 1001 24 Q1010 27 1020 23 Q1025 25 1031 25"/><path d="M1101 177 Q1104 181 1107 187 Q1112 190 1117 189 Q1127 197 1134 200 Q1142 198 1150 198 Q1156 205 1163 207"/><path d="M562 340 Q559 334 557 327 Q551 325 547 320 Q538 312 532 305 Q525 296 513 295 Q512 288 506 278"/><path d="M687 228 Q682 227 677 226 Q675 230 671 231 Q667 235 664 240 Q664 248 662 257"/><path d="M1122 112 Q1127 112 1132 114 Q1143 123 1148 128"/><path d="M1093 219 Q1083 218 1072 218 Q1067 217 1061 219 Q1054 227 1052 233 Q1052 241 1052 249 Q1050 254 1046 258"/><path d="M524 308 Q526 302 523 294 Q527 289 526 284"/><path d="M925 75 Q931 73 936 72 Q944 75 951 75 Q952 78 957 85 Q960 90 966 91"/><path d="M994 137 Q1000 136 1005 130 Q1014 133 1024 136 Q1028 139 1032 139 Q1042 136 1052 136"/><path d="M886 210 Q889 210 895 212 Q897 211 902 209"/><path d="M918 250 Q921 245 928 234 Q935 229 938 220"/><path d="M970 155 Q972 159 976 161 Q979 169 985 178 Q989 179 994 182"/><path d="M706 167 Q708 171 711 174 Q713 181 714 190 Q716 199 709 208 Q715 215 716 221"/><path d="M972 290 Q969 289 965 291 Q962 288 959 285 Q957 280 955 275 Q959 269 959 264"/><path d="M636 251 Q629 242 622 237 Q619 235 616 230"/><path d="M1117 309 Q1118 305 1122 303 Q1129 304 1137 300 Q1143 297 1148 291 Q1156 288 1165 288 Q1173 282 1178 273"/><path d="M605 171 Q604 166 598 159 Q593 154 587 153 Q583 155 577 154"/><path d="M843 87 Q837 97 842 108 Q842 114 838 118 Q840 124 838 131"/><path d="M1105 123 Q1107 117 1105 110 Q1105 102 1106 93 Q1109 87 1108 80 Q1111 72 1109 64 Q1109 55 1102 47"/><path d="M963 297 Q960 293 957 286 Q952 278 945 272"/><path d="M660 167 Q651 166 643 171 Q639 172 636 175 Q636 180 632 186 Q628 187 623 191 Q618 196 613 197"/><path d="M1025 150 Q1026 159 1024 168 Q1032 173 1037 186 Q1044 189 1048 193 Q1057 194 1065 200 Q1073 199 1083 198"/><path d="M639 282 Q640 290 633 302 Q633 310 637 318 Q642 325 651 329"/><path d="M770 341 Q775 334 777 329 Q786 325 792 318 Q801 311 807 306"/><path d="M932 135 Q927 132 919 133 Q910 136 903 144"/><path d="M586 291 Q581 286 581 281 Q582 274 577 265"/><path d="M796 277 Q792 281 793 287 Q785 291 781 299 Q775 300 770 301 Q765 299 757 298 Q752 299 745 300"/><path d="M530 180 Q535 183 540 184 Q546 183 552 182 Q558 182 565 175 Q570 175 575 173 Q578 171 579 165"/><path d="M1036 67 Q1030 75 1025 81 Q1019 83 1013 85 Q1007 84 1002 83"/><path d="M864 289 Q865 297 863 304 Q855 310 849 314 Q845 319 842 324 Q838 324 834 328 Q830 331 826 331"/><path d="M619 318 Q616 308 612 299 Q611 290 609 281"/><path d="M634 241 Q634 244 628 250 Q620 249 612 254 Q604 253 596 249"/><path d="M775 135 Q768 136 761 141 Q755 149 747 151"/><path d="M949 219 Q955 219 963 217 Q965 213 971 212 Q976 208 981 209"/><path d="M1077 77 Q1085 76 1095 78 Q1104 84 1111 86 Q1119 88 1127 87"/><path d="M1091 316 Q1095 315 1098 311 Q1101 305 1101 300"/><path d="M1071 186 Q1075 193 1078 203 Q1074 207 1074 211 Q1067 216 1062 219 Q1058 228 1051 235"/><path d="M910 236 Q915 229 925 226 Q932 224 942 226 Q948 223 955 224 Q962 220 972 219"/><path d="M597 318 Q597 313 594 308 Q588 301 577 295"/><path d="M1015 190 Q1012 185 1007 183 Q999 181 991 178 Q985 178 980 181 Q975 181 971 184 Q964 187 960 196"/><path d="M843 183 Q838 184 833 182 Q828 179 821 180 Q811 179 801 186"/><path d="M742 179 Q746 180 751 187 Q762 185 773 184 Q779 183 785 183 Q789 192 798 196"/><path d="M662 50 Q666 53 666 57 Q665 64 669 71 Q662 78 661 86"/><path d="M552 135 Q547 142 540 148 Q534 159 538 169"/><path d="M517 116 Q513 116 509 119 Q499 123 487 120"/><path d="M1000 324 Q999 317 996 310 Q992 305 989 298 Q987 289 977 283 Q973 278 964 267"/><path d="M1052 62 Q1051 57 1051 52 Q1058 44 1063 36 Q1066 27 1070 18 Q1066 12 1067 7"/><path d="M864 82 Q865 78 871 73 Q871 63 875 54 Q874 47 878 39 Q885 31 885 22"/><path d="M1054 74 Q1052 69 1053 63 Q1049 56 1049 49 Q1052 45 1054 41 Q1058 36 1063 28"/><path d="M1127 125 Q1122 128 1116 127 Q1108 135 1102 139"/><path d="M544 65 Q541 60 540 55 Q538 51 538 45 Q542 38 541 29 Q540 23 543 17 Q547 15 551 12"/><path d="M581 240 Q587 248 594 252 Q600 253 613 262 Q618 265 624 264 Q631 273 639 277"/><path d="M687 71 Q687 64 686 55 Q688 50 694 47 Q692 38 699 29 Q700 25 706 20 Q712 13 717 9"/><path d="M1077 256 Q1084 255 1093 260 Q1102 253 1111 250"/><path d="M644 241 Q635 249 631 256 Q625 265 620 272 Q611 276 602 276 Q595 277 589 283 Q581 284 570 278"/><path d="M840 329 Q848 328 856 334 Q862 333 868 330 Q873 328 878 320"/><path d="M797 52 Q800 46 807 38 Q811 31 810 23"/><path d="M660 196 Q655 202 651 205 Q643 213 634 218"/><path d="M805 200 Q807 209 817 217 Q824 220 833 226"/><path d="M797 249 Q803 256 809 263 Q814 268 816 275 Q823 280 829 283 Q835 280 841 279 Q848 281 856 276"/><path d="M690 273 Q692 279 695 285 Q692 291 692 297"/><path d="M1158 244 Q1163 240 1168 236 Q1177 237 1187 234 Q1196 240 1204 241 Q1214 250 1220 255 Q1229 253 1238 252"/><path d="M1140 212 Q1132 211 1124 209 Q1115 210 1106 208 Q1099 205 1092 206 Q1087 202 1082 195"/><path d="M696 82 Q686 81 676 88 Q665 85 656 80 Q652 77 652 73"/><path d="M826 318 Q829 310 829 303 Q827 295 828 286 Q826 279 831 272 Q832 264 832 256 Q838 252 844 247"/><path d="M1162 142 Q1156 143 1151 147 Q1146 148 1142 151"/><path d="M1044 339 Q1052 334 1058 332 Q1064 334 1071 335 Q1079 333 1085 328 Q1089 329 1093 327 Q1104 323 1114 327"/><path d="M501 47 Q499 57 497 67 Q503 75 503 83 Q506 87 506 91 Q509 98 511 104"/><path d="M929 246 Q924 242 921 236 Q911 236 901 233 Q894 230 887 232"/><path d="M884 330 Q880 332 878 336 Q871 346 870 355 Q864 360 858 373"/><path d="M655 156 Q654 152 650 144 Q650 139 653 135 Q646 127 642 118"/><path d="M717 303 Q710 304 703 306 Q697 309 690 311"/><path d="M679 46 Q681 43 685 39 Q688 32 686 24 Q684 19 679 14"/><path d="M1137 101 Q1140 97 1147 91 Q1151 81 1154 72 Q1151 64 1152 55"/><path d="M574 194 Q565 187 559 182 Q555 181 551 182 Q546 177 542 176 Q531 175 521 180"/><path d="M621 256 Q629 255 639 254 Q644 262 654 265 Q659 266 666 265 Q672 267 679 268"/><path d="M962 114 Q967 111 971 111 Q977 111 982 111 Q989 110 996 113 Q1002 120 1009 122"/><path d="M872 107 Q866 99 859 95 Q850 91 840 94 Q835 87 828 84 Q825 79 824 76"/><path d="M724 316 Q716 312 709 310 Q698 310 687 307 Q679 305 670 305 Q661 303 652 303 Q646 299 639 290"/><path d="M1133 289 Q1124 284 1113 279 Q1109 280 1105 279 Q1101 281 1094 286"/><path d="M943 110 Q947 114 954 123 Q958 131 959 138 Q963 143 971 146 Q982 144 993 144 Q997 139 1007 134"/><path d="M520 310 Q518 316 511 321 Q509 328 503 332"/><path d="M498 340 Q502 333 504 328 Q511 322 518 312"/><path d="M708 147 Q714 153 723 162 Q728 165 732 166 Q737 171 739 176 Q742 186 739 197"/><path d="M1051 264 Q1048 270 1042 273 Q1032 278 1022 275 Q1013 277 1008 288"/><path d="M763 53 Q765 58 765 63 Q773 68 779 73 Q782 78 781 83 Q789 91 792 97 Q793 106 793 116"/><path d="M937 194 Q934 199 935 202 Q933 206 926 212 Q920 216 913 221 Q906 224 901 228"/><path d="M595 160 Q594 156 592 152 Q590 146 582 139"/><path d="M927 129 Q922 130 917 133 Q912 137 908 146"/><path d="M734 111 Q730 116 729 120 Q733 129 732 140 Q733 146 734 151 Q741 158 743 164"/><path d="M888 62 Q883 63 878 63 Q870 54 860 51"/><path d="M838 178 Q840 172 843 168 Q844 160 846 152 Q845 145 836 137"/><path d="M572 79 Q582 80 591 72 Q596 73 601 75"/><path d="M1006 245 Q1006 237 1006 230 Q1004 220 1005 210"/><path d="M712 221 Q717 222 722 219 Q726 217 732 218 Q736 219 741 223"/><path d="M954 154 Q957 163 964 168 Q970 169 977 170 Q986 174 991 183 Q993 192 994 200"/><path d="M598 295 Q594 302 588 307 Q583 310 580 314"/><path d="M714 180 Q715 172 719 165 Q716 154 724 144 Q725 139 729 133 Q730 127 731 118"/><path d="M1160 48 Q1156 40 1150 32 Q1148 27 1142 23"/><path d="M1124 245 Q1118 251 1113 256 Q1110 261 1103 265 Q1097 275 1091 284 Q1092 289 1091 295"/><path d="M496 303 Q486 306 479 311 Q477 319 471 328 Q468 338 457 344 Q449 346 441 345 Q430 344 419 348"/><path d="M1112 293 Q1115 298 1112 305 Q1118 312 1119 321 Q1123 327 1132 331"/><path d="M624 261 Q631 252 634 245 Q634 240 633 234"/><path d="M922 319 Q921 322 919 326 Q914 328 910 332 Q906 338 907 348 Q902 358 906 369"/><path d="M705 237 Q701 246 694 252 Q693 256 694 262 Q691 267 687 274 Q681 281 677 287 Q671 289 667 293"/><path d="M1014 132 Q1016 125 1017 119 Q1013 111 1014 104 Q1018 100 1020 96 Q1031 92 1041 95 Q1047 94 1052 95"/><path d="M899 262 Q906 258 910 255 Q915 258 921 256 Q927 253 932 255"/><path d="M936 43 Q938 37 944 33 Q951 34 957 30 Q960 26 961 23 Q963 17 965 11 Q972 9 977 3"/><path d="M813 322 Q816 317 820 313 Q826 312 831 311 Q839 307 846 307"/><path d="M1087 148 Q1088 139 1079 129 Q1076 130 1070 126 Q1069 123 1065 117 Q1056 114 1049 109 Q1050 100 1043 92"/><path d="M513 109 Q508 103 505 97 Q502 96 497 94"/><path d="M1083 75 Q1079 75 1075 75 Q1069 73 1060 72 Q1050 61 1045 56"/><path d="M1066 334 Q1070 336 1072 342 Q1079 344 1087 345"/><path d="M735 41 Q734 33 731 26 Q733 17 737 9 Q738 -1 742 -12 Q744 -16 742 -22 Q742 -31 747 -42"/><path d="M745 111 Q753 117 760 119 Q767 121 775 124"/><path d="M941 176 Q935 168 929 160 Q931 155 932 150 Q931 141 933 132 Q933 123 937 115 Q939 109 940 104"/><path d="M1103 182 Q1098 171 1102 160 Q1099 155 1099 150 Q1100 145 1099 139 Q1108 136 1114 126 Q1119 120 1120 114"/><path d="M767 252 Q762 260 758 268 Q756 275 761 281 Q761 289 765 295 Q773 301 779 306"/><path d="M651 151 Q654 159 649 166 Q647 171 646 178 Q647 184 648 190 Q650 194 649 199 Q650 208 659 215"/><path d="M744 51 Q741 43 743 34 Q745 32 747 26 Q753 21 762 19 Q767 20 771 21 Q781 25 792 23"/><path d="M564 209 Q571 205 576 202 Q583 199 589 193 Q594 193 602 191 Q611 187 621 190 Q625 187 629 186"/><path d="M550 267 Q547 262 545 258 Q543 252 536 242"/><path d="M765 53 Q758 47 752 46 Q746 47 740 45 Q734 40 729 34 Q723 33 716 35"/><path d="M1068 116 Q1072 123 1081 128 Q1081 132 1085 137"/><path d="M799 253 Q795 251 790 252 Q786 256 781 259 Q776 269 774 279 Q771 284 766 287"/><path d="M1069 76 Q1074 83 1072 91 Q1072 95 1069 101"/><path d="M996 282 Q988 289 977 290 Q969 299 969 308 Q964 311 961 316"/><path d="M595 55 Q591 49 584 47 Q582 40 576 31"/><path d="M665 205 Q667 209 668 213 Q676 217 681 222 Q683 226 688 234"/><path d="M1049 75 Q1055 70 1058 65 Q1062 67 1067 65"/><path d="M894 202 Q901 210 910 211 Q915 213 920 219 Q925 216 930 216"/><path d="M607 144 Q603 144 597 141 Q592 144 583 148 Q575 151 566 147 Q562 149 557 146"/><path d="M881 145 Q880 154 872 160 Q866 169 858 174 Q859 180 857 185"/><path d="M856 137 Q858 143 856 150 Q859 155 861 158"/><path d="M829 309 Q839 311 848 310 Q855 305 865 303"/><path d="M512 158 Q507 158 502 155 Q493 154 484 159 Q480 160 476 156 Q467 160 457 159"/><path d="M548 269 Q538 273 527 275 Q523 279 522 285 Q525 291 523 298"/><path d="M639 139 Q646 143 653 144 Q656 151 661 161"/><path d="M912 295 Q918 288 923 276 Q927 267 932 260"/><path d="M959 130 Q964 137 970 146 Q967 155 971 164 Q964 172 960 176 Q951 172 941 175 Q937 178 932 179"/><path d="M823 314 Q820 305 812 298 Q813 289 816 279"/><path d="M931 292 Q927 296 924 296 Q921 304 916 314 Q916 320 912 326 Q907 333 899 336 Q895 343 890 351"/><path d="M1035 75 Q1028 68 1023 58 Q1018 55 1013 55"/><path d="M1085 330 Q1078 335 1071 336 Q1066 337 1061 333 Q1052 334 1042 341 Q1039 346 1033 351"/><path d="M1072 194 Q1068 197 1064 198 Q1058 195 1052 194 Q1045 190 1037 192 Q1031 194 1024 190"/><path d="M1054 246 Q1046 245 1038 245 Q1028 251 1017 247 Q1012 241 1008 239 Q998 231 992 224 Q991 216 993 207"/><path d="M508 205 Q500 201 491 205 Q482 205 474 199"/><path d="M879 289 Q884 284 888 283 Q893 279 897 271 Q906 262 912 256 Q918 253 923 251"/><path d="M909 320 Q904 325 901 330 Q900 340 901 351 Q900 355 902 361 Q905 368 910 374"/><path d="M769 61 Q763 66 759 68 Q755 69 750 70 Q742 76 731 78 Q726 84 725 92 Q726 102 720 111"/><path d="M926 332 Q927 325 922 319 Q921 314 916 307"/><path d="M616 303 Q606 300 598 293 Q592 292 585 297 Q577 296 569 296 Q559 297 550 304 Q544 311 541 318"/><path d="M1096 311 Q1100 308 1102 303 Q1105 300 1111 295 Q1117 293 1123 294 Q1131 289 1134 280 Q1134 274 1142 264"/><path d="M710 39 Q707 34 699 29 Q696 26 693 23 Q692 17 686 13"/><path d="M849 108 Q838 106 827 109 Q822 112 818 114 Q812 124 803 129"/><path d="M567 157 Q576 152 581 143 Q587 140 594 143 Q599 144 604 143 Q611 144 617 149 Q623 151 629 151"/><path d="M839 171 Q837 176 837 182 Q843 192 841 201 Q842 205 841 209"/><path d="M1054 233 Q1055 225 1056 216 Q1056 212 1054 207 Q1053 203 1051 199 Q1045 189 1040 182"/><path d="M819 63 Q817 73 809 80 Q807 87 800 92 Q801 103 805 113 Q800 119 797 124"/><path d="M1038 294 Q1047 291 1056 296 Q1067 305 1073 310"/><path d="M628 212 Q634 208 639 200 Q643 199 647 200 Q650 204 655 205 Q660 210 669 212"/><path d="M1107 270 Q1105 264 1102 260 Q1106 254 1109 244"/><path d="M899 74 Q894 79 891 82 Q884 89 881 98 Q879 98 874 103 Q870 104 865 103 Q862 98 857 95"/><path d="M921 317 Q918 325 921 332 Q919 336 915 339 Q910 340 905 347"/><path d="M748 305 Q756 311 765 315 Q774 318 779 328"/><path d="M859 126 Q855 129 849 132 Q844 130 838 131"/><path d="M944 337 Q938 331 935 328 Q929 318 932 308"/><path d="M695 270 Q697 273 696 278 Q695 286 693 294 Q692 301 693 310 Q686 317 685 328"/><path d="M974 47 Q975 43 975 39 Q975 34 972 29 Q965 29 959 24 Q956 16 953 8 Q952 -0 955 -10"/><path d="M500 202 Q494 201 488 205 Q479 204 470 196 Q468 191 464 185 Q457 176 455 166"/><path d="M929 202 Q935 205 943 207 Q947 212 952 214 Q958 221 959 226 Q964 234 965 242 Q970 248 973 252"/><path d="M553 301 Q551 295 546 286 Q542 285 538 283 Q534 282 529 285"/><path d="M954 121 Q958 118 963 113 Q969 104 969 92 Q968 86 971 80"/><path d="M1020 70 Q1022 76 1019 82 Q1015 86 1012 90 Q1009 94 1003 95 Q997 92 990 90"/><path d="M641 58 Q645 61 650 68 Q658 70 664 79 Q667 84 676 95"/><path d="M1004 321 Q1007 327 1016 336 Q1018 341 1015 348 Q1018 354 1018 360"/><path d="M820 71 Q815 75 811 75 Q808 82 801 86 Q796 92 795 99 Q795 104 799 109 Q792 120 791 130"/><path d="M1127 198 Q1130 204 1128 210 Q1126 219 1130 231 Q1129 239 1122 246"/><path d="M1023 59 Q1019 54 1019 49 Q1018 45 1017 41 Q1016 35 1014 30 Q1016 25 1015 20 Q1018 13 1024 2"/><path d="M613 107 Q604 99 596 97 Q593 92 591 86"/><path d="M536 46 Q534 51 533 56 Q525 59 519 63 Q517 68 509 80 Q504 85 504 90"/><path d="M765 142 Q760 133 758 125 Q751 120 742 115"/><path d="M860 156 Q860 162 865 169 Q869 170 875 175"/><path d="M776 62 Q774 55 776 46 Q782 36 785 27 Q792 20 791 8 Q784 2 783 -8 Q776 -12 770 -13"/><path d="M967 215 Q959 213 950 216 Q945 211 943 209 Q940 205 936 200 Q930 197 924 195 Q915 198 907 201"/><path d="M944 281 Q953 283 962 277 Q968 278 974 273 Q980 264 985 255 Q983 246 983 236 Q980 229 978 222"/><path d="M922 305 Q922 313 925 322 Q926 327 928 334 Q925 340 925 346"/><path d="M947 275 Q939 273 928 272 Q923 271 912 265"/><path d="M1007 129 Q1002 139 1003 149 Q1004 153 1006 157"/><path d="M675 59 Q678 54 683 52 Q692 47 702 52 Q705 49 709 46"/><path d="M540 144 Q534 149 530 152 Q530 154 526 159 Q529 169 529 179 Q531 187 541 191 Q545 199 547 209"/><path d="M502 133 Q509 132 518 128 Q527 127 536 133 Q544 135 550 142 Q553 144 557 148 Q563 151 570 152"/><path d="M512 258 Q518 263 523 272 Q531 279 544 278 Q548 276 553 275 Q561 278 570 275"/><path d="M758 197 Q760 200 762 205 Q758 215 754 224 Q756 231 758 238 Q755 246 757 254"/><path d="M538 156 Q531 150 524 149 Q524 143 520 136 Q520 127 523 118 Q527 114 528 111"/><path d="M1069 325 Q1061 326 1054 320 Q1046 317 1040 307"/><path d="M756 67 Q763 58 766 48 Q772 45 776 40"/><path d="M765 111 Q758 113 753 115 Q748 114 744 117 Q737 118 730 115 Q723 112 716 103 Q717 95 710 86"/><path d="M1076 194 Q1078 187 1074 179 Q1075 175 1080 169"/><path d="M721 95 Q714 92 705 93 Q698 91 686 86"/><path d="M1063 287 Q1066 294 1067 303 Q1064 306 1063 310 Q1055 312 1049 318 Q1045 321 1041 321"/><path d="M592 131 Q584 133 573 135 Q565 136 556 144 Q546 138 536 141 Q529 140 521 131"/></g>
<g fill="none" stroke="#a9accd" stroke-width="1.4"><path d="M547 107 C560 111 580 117 596 121 C605 125 612 132 629 138 C634 143 640 148 655 146"/><path d="M531 226 C545 226 560 226 579 224 C590 227 600 230 605 231 C620 234 640 240 657 242 C670 235 680 228 691 224 C720 222 740 218 760 215"/><path d="M555 282 C570 278 580 276 586 275 C600 275 610 275 631 270 C645 262 655 250 667 242 C675 236 680 232 684 228 C692 220 698 215 703 211 C710 200 714 192 717 187 C720 183 724 180 727 178"/><path d="M572 180 C575 200 578 215 579 224 C580 250 581 270 581 275 C583 290 585 300 586 299 C592 320 600 335 605 342"/><path d="M785 89 C795 83 805 77 825 54 C828 48 831 42 834 38"/><path d="M825 156 C830 145 836 137 843 132 C852 120 858 110 865 105 C872 95 876 88 878.5 83 C883 75 887 70 891 67"/><path d="M771 90 C790 90 810 90 825 89"/><path d="M937 211 C943 220 946 228 949 235 C955 245 960 252 966 256 C980 254 990 252 999 251 C1010 252 1020 254 1027 256 C1035 262 1042 270 1046 277 C1052 285 1056 292 1058 299 C1060 305 1060 310 1061 313"/><path d="M1008 180 C1008 200 1008 220 1008 235 C1004 242 1000 247 999 249 C992 255 986 261 982 266 C977 272 973 278 970 282 C965 288 958 293 954 296"/><path d="M937 211 C943 205 948 202 951 199 C956 193 960 188 963 185 C964 180 965 175 966 170"/><path d="M1040 200 C1060 215 1075 230 1090 240 C1110 245 1130 250 1165 260"/><path d="M1100 315 C1110 305 1120 300 1130 290 C1140 270 1150 250 1165 240"/><path d="M491 240 C500 250 510 255 520 260 M491 305 C510 300 530 295 555 282"/><path d="M660 38 C665 50 668 60 670 75 M600 38 C610 55 615 70 625 90"/><path d="M700 120 C710 140 720 160 735 167 M705 190 C720 210 730 230 735 260 C740 280 745 300 760 313"/><path d="M890 60 C905 80 915 100 930 125 M920 45 C930 60 945 80 955 100"/><path d="M1040 130 C1050 150 1045 165 1060 185 C1075 200 1090 215 1105 240 C1110 260 1125 275 1140 290"/><path d="M1085 60 C1080 90 1095 120 1090 150 C1085 170 1095 190 1100 210 M1150 40 C1140 70 1148 100 1135 130 C1125 150 1130 170 1120 190"/></g>
<g fill="none" stroke-linecap="round"><path id="tr1" d="M531 65 C538 80 542 100 546 110 C552 120 560 135 562 154 C560 162 558 172 560 190 C565 205 572 215 579 224" stroke="#9a9dc2" stroke-width="3.4"/><path d="M531 65 C538 80 542 100 546 110 C552 120 560 135 562 154 C560 162 558 172 560 190 C565 205 572 215 579 224" stroke="#e6e6f0" stroke-width="1.3"/></g>
<ellipse cx="812" cy="226" rx="34" ry="30" fill="#dcdbe8" opacity="0.35" filter="url(#blur8)"/>
<g fill="none" stroke="#b3b5d3" stroke-width="1"><path d="M780 200 L845 250 M790 250 L840 205 M775 226 H850 M812 188 V265 M785 212 C800 220 825 232 848 238 M795 190 C805 210 818 240 830 262"/></g>
<g fill="none" stroke="#9a9dc4" stroke-width="2.2"><ellipse cx="812" cy="226" rx="24" ry="21"/><path d="M788 215 C800 200 830 195 845 205 C855 215 850 240 835 250"/><path d="M845 205 H880 M835 250 C840 270 830 290 825 300"/></g>
<g fill="none" stroke="#7b7ea7" stroke-width="3.2" stroke-linecap="round" stroke-linejoin="round"><path d="M769 38 C766 50 761 70 762 80 C764 95 758 110 760 120 C763 135 765 150 768 170 C771 180 776 188 781 196"/><path d="M762 126 C775 131 795 136 818 143 C826 150 830 165 831.6 190 C833 196 834 200 822 203"/><path d="M829 165 C845 165 860 166 870 174 C878 180 884 186 892 195 C896 215 897 240 889 249 C884 255 881 258 880 263"/><path d="M847 190 C870 180 890 172 913 161 C925 157 935 157 940 147 C955 133 969 121 973 105 C977 85 982 70 981 60 C978 52 970 47 966 38"/><path d="M980 51 C990 47 1000 43 1005 42 C1012 40 1016 38 1020 38"/><path d="M491 162 C500 162 520 166 531 174 C538 180 540 186 541 190 M540 183 C550 180 565 176 584 161 C592 157 600 157 620 162 C632 160 642 158 655 155 C665 155 680 156 691 154 C710 157 725 160 735 167 C740 170 745 173 749 181 C752 184 760 184 767 179"/><path d="M531 168 C538 178 545 195 555 210 C562 225 562 240 556 252 C557 265 562 278 572 288 C576 300 578 310 590 327 C596 335 600 340 603 342"/><path d="M781 196 C787 210 795 230 803 246 C806 255 804 270 798 282 C790 295 788 305 791 313 C795 322 804 332 810 342"/><path d="M712 342 C725 335 745 322 760 313 C768 308 773 305 777 305 C785 305 795 305 798 305 C806 302 812 297 818 290 C824 280 828 272 836 267 C843 263 848 261 850 255"/><path d="M776.6 262 C785 258 795 250 800 247"/><path d="M810 236 C830 240 848 246 870 258 C880 263 890 268 904 273 C920 281 940 292 951 296 C962 300 972 305 980 313 C990 318 1000 318 1032 316.7 C1050 314 1070 311 1087 310.5 C1100 314 1120 320 1135 323 C1145 322 1150 315 1152 311 L1165 311"/><path d="M996 326 C1002 330 1008 336 1010 342"/></g>
<g fill="none" stroke="#9ec6ee" stroke-width="1"><path d="M775 40 C772 70 768 100 770 120 C775 140 790 150 800 170 C805 190 810 210 808 250 C806 280 800 300 805 342"/><path d="M1150 60 C1155 100 1158 150 1150 200 C1145 250 1140 290 1150 320"/></g>
<path d="M1148 312 C1156 312 1160 318 1158 326 C1156 331 1149 332 1146 328 C1144 322 1145 316 1148 312z" fill="#a6cff2"/>
<path d="M1164 191 C1160 193 1159 200 1160 205 C1161 208 1163 210 1164 210z" fill="#e08a60"/><path d="M1164 193 C1162 196 1162 204 1164 207z" fill="#a6cff2"/>
<g fill="#fff" stroke="#555" stroke-width="0.8"><rect x="758.5" y="94.0" width="4" height="4"/><rect x="870.0" y="86.0" width="4" height="4"/><rect x="989.4" y="109.6" width="4" height="4"/><rect x="829.5" y="180.0" width="4" height="4"/><rect x="817.6" y="204.2" width="4" height="4"/><rect x="817.5" y="242.5" width="4" height="4"/><rect x="769.0" y="258.0" width="4" height="4"/><rect x="774.0" y="302.5" width="4" height="4"/><rect x="916.0" y="289.6" width="4" height="4"/><rect x="1108.5" y="212.7" width="4" height="4"/><rect x="650.0" y="144.0" width="4" height="4"/><rect x="514.0" y="293.0" width="4" height="4"/><rect x="1103.7" y="329.7" width="4" height="4"/></g>
<rect x="921" y="154" width="22.5" height="11" fill="#9a9dbf"/><text x="932.2" y="163" text-anchor="middle" font-family="Liberation Sans" font-size="10" fill="#fff">A 42</text>
<rect x="562" y="294" width="23" height="11" fill="#9a9dbf"/><text x="573.5" y="303" text-anchor="middle" font-family="Liberation Sans" font-size="10" fill="#fff">A 72</text>
<g font-family="Liberation Sans" font-size="11" fill="#222" filter="url(#halo)"><text x="706.5" y="107.2">Villefranche-sur-Saône</text><text x="826" y="99.4">Villars-les-Dombes</text><text x="944.3" y="122.4">Ambérieu-en-Bugey</text><text x="786" y="192.4">Rillieux-la-Pape</text><text x="789.7" y="219.2">Villeurbanne</text><text x="793.3" y="258">Vénissieux</text><text x="751.6" y="270.4">Brignais</text><text x="761.6" y="317.2">Givors</text><text x="887.6" y="301.8">Villefontaine</text><text x="1096" y="225.2">Belley</text><text x="640" y="157.5">Tarare</text><text x="493" y="306">Montbrison</text><text x="491" y="77">Rie</text><text x="1134" y="42.5">Valser</text><text x="1091" y="344">-de-Beauvoisin</text></g>
</svg>
<!-- toolbar & chart area -->
<div class="a" style="left:491px;top:341px;width:673px;height:37px;background:#fff"></div>
<div class="a" style="left:491px;top:378px;width:673px;height:264px;background:#efefef"></div>
<div class="a" style="left:504px;top:387px;width:648px;height:248px;background:#fff"></div>
<svg class="a" style="left:491px;top:341px" width="673" height="302" viewBox="491 341 673 302">
 <rect x="569" y="425" width="148.5" height="169.5" fill="#eaf4ea"/>
 <rect x="762" y="425" width="380.2" height="169.5" fill="#eaf4ea"/>
 <g stroke="#e4e6e9" stroke-width="1" opacity="0.8">
  <path d="M569 427.5H1142 M569 448.5H1142 M569 469.5H1142 M569 490.5H1142 M569 510.5H1142 M569 531.5H1142 M569 552.5H1142 M569 573.5H1142"/>
 </g>
 <path d="M569 594.5H1142" stroke="#e0e2e6" stroke-width="1"/>
 <g font-family="Liberation Sans" font-size="12" fill="#6b7080" text-anchor="end">
  <text x="566" y="431">80</text><text x="566" y="452">70</text><text x="566" y="473">60</text><text x="566" y="494">50</text><text x="566" y="515">40</text><text x="566" y="536">30</text><text x="566" y="557">20</text><text x="566" y="578">10</text><text x="566" y="598.5">0</text>
 </g>
 <clipPath id="xclip"><rect x="491" y="595" width="661" height="40"/></clipPath>
 <g font-family="Liberation Sans" font-size="12" fill="#737373" text-anchor="middle" clip-path="url(#xclip)">
  <text x="623.3" y="611">04:00</text><text x="623.3" y="627">12.04</text>
  <text x="726.5" y="611">04:15</text><text x="726.5" y="627">12.04</text>
  <text x="829.7" y="611">04:30</text><text x="829.7" y="627">12.04</text>
  <text x="932.9" y="611">04:45</text><text x="932.9" y="627">12.04</text>
  <text x="1036.1" y="611">05:00</text><text x="1036.1" y="627">12.04</text>
  <text x="1139.3" y="611">05:15</text><text x="1139.3" y="627">12.04</text>
 </g>
 <text transform="translate(531 510) rotate(-90)" font-family="Liberation Sans" font-size="12" fill="#8a8f99" text-anchor="middle">Speed, km/h</text>
 <path d="M569.5 531.8 L585.8 502.0 L611.6 483.5 L615.2 487.6 L622.0 487.6 L629.3 493.8 L635.5 502.0 L642.9 529.0 L649.7 515.0 L663.3 448.0 L670.0 502.0 L677.4 542.7 L683.6 529.0 L684.4 510.0 L687.7 548.0 L691.3 493.8 L697.8 489.7 L704.8 489.7 L711.3 583.5 L717.0 594.3 L775.2 594.3 L775.8 583.5 L777.4 570.0 L782.0 556.3 L788.8 499.2 L790.7 529.0 L793.4 475.3 L796.1 525.0 L802.9 433.5 L806.5 447.6 L809.7 541.4 L816.5 461.2 L822.8 492.4 L824.1 491.0 L828.8 583.5 L830.1 506.8 L837.7 525.0 L838.3 556.3 L841.0 538.6 L847.8 594.3 L861.4 461.2 L866.8 516.9 L867.6 493.8 L875.0 502.5 L881.7 448.2 L888.5 476.1 L895.3 452.5 L902.1 548.2 L909.5 430.0 L916.3 464.0 L922.0 552.2 L923.3 506.8 L930.1 593.8 L936.9 479.4 L943.7 479.4 L950.5 439.5 L957.0 443.0 L964.6 443.0 L975.0 537.3 L978.2 489.7 L981.7 533.2 L985.0 490.3 L991.0 544.0 L998.6 498.7 L1005.9 537.3 L1012.5 452.5 L1015.8 548.2 L1019.1 494.3 L1026.2 511.5 L1033.0 439.5 L1038.4 552.2 L1039.8 473.4 L1043.6 479.4 L1045.8 560.4 L1047.1 516.9 L1053.9 483.0 L1057.4 455.8 L1060.7 442.2 L1062.9 449.0 L1063.4 455.8 L1068.0 455.8 L1069.1 464.7 L1075.1 455.8 L1081.1 425.3 L1092.0 543.3 L1094.7 433.5 L1099.6 451.1 L1100.9 543.3 L1105.0 438.9 L1108.8 423.7 L1112.9 434.0 L1114.5 436.7 L1116.4 428.6 L1119.1 433.5 L1119.7 463.9 L1121.8 474.8 L1122.7 449.0 L1125.4 488.9 L1130.0 449.0 L1132.2 502.0 L1136.8 457.1 L1139.5 461.2 L1142.2 463.4" fill="none" stroke="#2196f3" stroke-width="2" stroke-linejoin="miter" stroke-miterlimit="3"/>
 <rect x="707.5" y="398.5" width="19" height="18" fill="#3f51b5" stroke="#3f51b5"/>
 <rect x="708.8" y="399.8" width="16.4" height="15.4" fill="none" stroke="#fff" stroke-width="0.9"/>
 <path d="M713.5 413 V402 H717.8 A2.9 2.9 0 0 1 717.8 407.8 H715.3 V413z M715.3 403.6 V406.3 H717.6 A1.35 1.35 0 0 0 717.6 403.6z" fill="#fff" fill-rule="evenodd"/>
 <circle cx="847.6" cy="407.4" r="8.6" fill="#f44336"/>
 <text x="0" y="0" transform="translate(847.6 409.9) scale(0.72 1)" text-anchor="middle" font-family="Liberation Sans" font-weight="700" font-size="7.5" fill="#fff">STOP</text>
 <circle cx="930.3" cy="407.4" r="8.6" fill="#f44336"/>
 <text x="0" y="0" transform="translate(930.3 409.9) scale(0.72 1)" text-anchor="middle" font-family="Liberation Sans" font-weight="700" font-size="7.5" fill="#fff">STOP</text>
</svg>
<!-- map overlays -->
<div class="a" style="left:491px;top:38px;width:8px;height:303px;background:linear-gradient(90deg,rgba(0,0,0,0.13),rgba(0,0,0,0))"></div>
<div class="a" style="left:491px;top:38px;width:673px;height:4px;background:linear-gradient(rgba(0,0,0,0.12),rgba(0,0,0,0))"></div>
<svg class="a" style="left:663px;top:68.5px" width="32" height="17" viewBox="0 0 32 17"><path d="M1 9.5 C1 7.5 4 6 8 5.2 L12 3.5 L22 2 C26 1.5 30 2.5 31 4.5 L31 9 C30 11 26 12 22 12.8 L10 15.2 C6 15.8 2 14.5 1 12.5z" fill="#9d2fd6"/><path d="M2 8.5 C5 7 9 6.5 13 5.5 L23 3.6 C26 3.2 29 3.5 30.5 5" stroke="#d49cf5" stroke-width="1.1" fill="none"/><path d="M11.5 3.6 L14.5 1.2 L16 1.5 L17 0.6 L22.5 1.2 L23.5 2.2 L14 4.2z" fill="#4a4a55"/><path d="M2.5 11 L6.5 10.5" stroke="#eee" stroke-width="0.9"/><circle cx="13.5" cy="13.3" r="2.7" fill="#333"/><circle cx="13.5" cy="13.3" r="1.4" fill="#ccc"/><circle cx="28.5" cy="9.8" r="2.3" fill="#333"/><circle cx="28.5" cy="9.8" r="1.1" fill="#ccc"/></svg>
<svg class="a" style="left:650px;top:90px" width="60" height="18" viewBox="0 0 60 18"><text x="4" y="13.8" font-family="Liberation Sans" font-weight="700" font-size="11.5" fill="#ee1c24" stroke="#fff" stroke-width="2.5" paint-order="stroke" stroke-linejoin="round">FIAT mile</text></svg>
<!-- left controls -->
<div class="a" style="left:503px;top:50px;width:28px;height:28px;background:#fff;border-radius:4px;box-shadow:0 1px 3px rgba(0,0,0,0.2)"></div>
<svg class="a" style="left:508px;top:55px" width="18" height="18" viewBox="0 0 18 18"><circle cx="7.8" cy="7.8" r="5.6" fill="none" stroke="#4a5160" stroke-width="1.2"/><path d="M11.8 11.8 L15.5 15.5" stroke="#4a5160" stroke-width="1.5"/></svg>
<div class="a" style="left:503px;top:87px;width:28px;height:54px;background:#fff;border-radius:4px;box-shadow:0 1px 3px rgba(0,0,0,0.2)"></div>
<svg class="a" style="left:508px;top:94px" width="18" height="12" viewBox="0 0 18 12"><path d="M1.2 6 C3.5 2.2 6.2 1.2 9 1.2 C11.8 1.2 14.5 2.2 16.8 6 C14.5 9.8 11.8 10.8 9 10.8 C6.2 10.8 3.5 9.8 1.2 6z" fill="none" stroke="#4a5160" stroke-width="1.4"/><circle cx="9" cy="5.6" r="2.9" fill="#4a5160"/><circle cx="8.1" cy="4.7" r="0.8" fill="#fff"/></svg>
<svg class="a" style="left:508px;top:119px" width="18" height="18" viewBox="0 0 18 18"><path d="M1.5 3.5 L6 2 L12 4 L16.5 2.5 V14.5 L12 16 L6 14 L1.5 15.5z M6 2 V14 M12 4 V16" fill="none" stroke="#4a5160" stroke-width="1.3" stroke-linejoin="round"/></svg>
<div class="a" style="left:503px;top:153.5px;width:28px;height:111.5px;background:#fff;border-radius:4px;box-shadow:0 1px 3px rgba(0,0,0,0.2)"></div>
<svg class="a" style="left:507px;top:158px" width="20" height="20" viewBox="0 0 20 20"><path d="M3 4 H17 M3 4 l2.5 -2 M3 4 l2.5 2 M17 4 l-2.5 -2 M17 4 l-2.5 2" stroke="#4a5160" stroke-width="1.2" fill="none"/><rect x="1.8" y="9" width="16.4" height="8" rx="1.5" fill="none" stroke="#4a5160" stroke-width="1.4"/><path d="M5 9 V12 M8 9 V13 M11 9 V12 M14 9 V13" stroke="#4a5160" stroke-width="1.1"/></svg>
<svg class="a" style="left:508px;top:186px" width="18" height="20" viewBox="0 0 18 20"><circle cx="14" cy="3.5" r="2.2" fill="none" stroke="#4a5160" stroke-width="1.3"/><circle cx="4" cy="16" r="2.2" fill="none" stroke="#4a5160" stroke-width="1.3"/><path d="M11.8 3.5 H5 A3.2 3.2 0 0 0 5 9.9 H13 A3.1 3.1 0 0 1 13 16 H6.2" fill="none" stroke="#4a5160" stroke-width="1.3"/><circle cx="9" cy="9.9" r="1.3" fill="#4a5160"/></svg>
<svg class="a" style="left:508px;top:214px" width="18" height="20" viewBox="0 0 18 20"><path d="M4 1.2 A3.3 3.3 0 0 1 7.3 4.5 C7.3 6.6 4 9.6 4 9.6 C4 9.6 0.7 6.6 0.7 4.5 A3.3 3.3 0 0 1 4 1.2z M14 1.2 A3.3 3.3 0 0 1 17.3 4.5 C17.3 6.6 14 9.6 14 9.6 C14 9.6 10.7 6.6 10.7 4.5 A3.3 3.3 0 0 1 14 1.2z" fill="none" stroke="#4a5160" stroke-width="1.3"/><circle cx="4" cy="4.5" r="1" fill="#4a5160"/><circle cx="14" cy="4.5" r="1" fill="#4a5160"/><circle cx="3.5" cy="15.8" r="2" fill="none" stroke="#4a5160" stroke-width="1.3"/><circle cx="14.5" cy="15.8" r="2" fill="none" stroke="#4a5160" stroke-width="1.3"/><path d="M5.5 15.8 H12.5" stroke="#4a5160" stroke-width="1.3"/></svg>
<svg class="a" style="left:512px;top:246px" width="10" height="12" viewBox="0 0 10 12"><path d="M2.5 1.5 L7 6 L2.5 10.5" fill="none" stroke="#3c4455" stroke-width="1.5"/></svg>
<!-- zoom control -->
<div class="a" style="left:1116px;top:161px;width:28px;height:57px;background:#fff;border-radius:4px;box-shadow:0 1px 3px rgba(0,0,0,0.2)"></div>
<div class="a" style="left:1116px;top:189px;width:28px;height:1px;background:#d6d8dc"></div>
<div class="a" style="left:1123px;top:174px;width:14px;height:1.8px;background:#4a5160"></div>
<div class="a" style="left:1129.1px;top:168px;width:1.8px;height:14px;background:#4a5160"></div>
<div class="a" style="left:1123px;top:203px;width:14px;height:2px;background:#4a5160"></div>
<!-- scale & attribution -->
<svg class="a" style="left:491px;top:260px" width="160" height="70" viewBox="491 260 160 70">
 <path d="M504 267V309 M504 288H582 M553 267V288 M581 288V309" stroke="#111" stroke-width="2" fill="none"/>
 <g font-family="Liberation Sans" font-weight="700" font-size="9.5" fill="#222" stroke="#fff" stroke-width="2" paint-order="stroke"><text x="515" y="280">10 km</text><text x="530" y="301.5">10 mi</text><text x="503" y="322.5" font-size="9.4">© OpenStreetMap contributors</text></g>
</svg>
<svg class="a" style="left:1000px;top:310px" width="164" height="16" viewBox="1000 310 164 16"><text x="1008" y="322.5" font-family="Liberation Sans" font-size="9.9" fill="#2e3240" stroke="#2e3240" stroke-width="0.3">N 46° 13.7601' : E 006° 44.0044'</text></svg>
<svg class="a" style="left:980px;top:312px" width="100" height="18" viewBox="980 312 100 18"><text x="987.5" y="326.3" font-family="Liberation Sans" font-size="11" fill="#333" stroke="#fff" stroke-width="1.6" stroke-opacity="0.6" paint-order="stroke">La Tour-du-Pin</text></svg>
<!-- toolbar icons -->
<div class="a" style="left:493px;top:343px;width:670px;height:34px;border:2px solid #58d5ea;border-radius:4px"></div>
<svg class="a" style="left:508px;top:350px" width="20" height="20" viewBox="0 0 20 20"><circle cx="9" cy="9" r="6.6" fill="none" stroke="#4a5160" stroke-width="1.2"/><path d="M13.8 13.8 L17.5 17.5" stroke="#4a5160" stroke-width="2.2"/><path d="M9 5.8V12.2 M5.8 9H12.2" stroke="#4a5160" stroke-width="1.9"/></svg>
<svg class="a" style="left:540px;top:350px" width="20" height="20" viewBox="0 0 20 20"><circle cx="9" cy="9" r="6.6" fill="none" stroke="#4a5160" stroke-width="1.2"/><path d="M13.8 13.8 L17.5 17.5" stroke="#4a5160" stroke-width="2.2"/><path d="M5.8 9H12.2" stroke="#4a5160" stroke-width="1.9"/></svg>
<svg class="a" style="left:573px;top:350px" width="20" height="20" viewBox="0 0 20 20"><path d="M4.2 11.5 A6.3 6.3 0 1 0 3.8 6.5" fill="none" stroke="#4a5160" stroke-width="1.7"/><path d="M2.2 2.8 L3 8.3 L7.8 6.2z" fill="#4a5160"/><path d="M14.5 14.5 L17.5 17.5" stroke="#4a5160" stroke-width="2"/></svg>
<div class="a" style="left:604px;top:346px;width:1px;height:28px;background:#d2d5da"></div>
<svg class="a" style="left:618px;top:351.5px" width="18" height="17" viewBox="0 0 18 17"><path d="M1 5V1H5 M12 1H16V5 M1 12V16H5" fill="none" stroke="#4a5160" stroke-width="1.6"/><path d="M13.2 9.5V16.5 M9.7 13H16.7" stroke="#4a5160" stroke-width="1.8"/></svg>
<div class="a" style="left:645px;top:346px;width:28px;height:28px;background:#dceafc;border-radius:4px"></div>
<svg class="a" style="left:650px;top:351.5px" width="18" height="17" viewBox="0 0 18 17"><path d="M2.5 1 H15 A1.5 1.5 0 0 1 16.5 2.5 V11 A1.5 1.5 0 0 1 15 12.5 H5.5 L1.2 16.2 V2.5 A1.5 1.5 0 0 1 2.5 1z" fill="none" stroke="#3d8cf5" stroke-width="1.7" stroke-linejoin="round"/><path d="M4.5 4.7H13 M4.5 8H10" stroke="#3d8cf5" stroke-width="1.5"/></svg>
<svg class="a" style="left:681px;top:350.5px" width="20" height="19" viewBox="0 0 20 19"><path d="M3.5 3 H16.5 M3.5 3 l2.2 -2 M3.5 3 l2.2 2 M16.5 3 l-2.2 -2 M16.5 3 l-2.2 2" stroke="#4a5160" stroke-width="1.3" fill="none"/><rect x="1.8" y="8.8" width="16.4" height="8.8" rx="1.5" fill="none" stroke="#4a5160" stroke-width="1.6"/><path d="M5.5 9 V12 M8.5 9 V13 M11.5 9 V12 M14.5 9 V13" stroke="#4a5160" stroke-width="1.2"/></svg>
<svg class="a" style="left:716px;top:353px" width="14" height="14" viewBox="0 0 14 14"><path d="M1.2 12.8 L2 9.5 L9.5 2 L12 4.5 L4.5 12z" fill="#4a5160"/><path d="M10.3 1.2 L11.3 0.5 L13.5 2.7 L12.8 3.7z" fill="#4a5160"/></svg>
<svg class="a" style="left:1042px;top:351px" width="20" height="18" viewBox="0 0 20 18"><path d="M5 5 V1.2 H15 V5" fill="none" stroke="#4a5160" stroke-width="1.5"/><path d="M4.5 13 H1.2 V6.5 A1.5 1.5 0 0 1 2.7 5 H17.3 A1.5 1.5 0 0 1 18.8 6.5 V13 H15.5" fill="none" stroke="#4a5160" stroke-width="1.5"/><rect x="5" y="10" width="10" height="7" fill="none" stroke="#4a5160" stroke-width="1.5"/></svg>
<div class="a" style="left:1074px;top:346.5px;width:78px;height:27px;border:1px solid #dcdee3;border-radius:4px;background:#fff"></div>
<div class="t" style="left:1083px;top:351.8px;font-size:14px;color:#4a5160">Export</div>
<svg class="a" style="left:1131px;top:354px" width="13" height="10"><path d="M2.40 3.60 L6.60 7.80 L10.80 3.60" fill="none" stroke="#4a5160" stroke-width="1.5"/></svg>
<!-- highlight & callouts -->
<div class="a" style="left:112px;top:366px;width:377px;height:274px;border:2px solid #58d5ea;border-radius:4px"></div>
<div class="a" style="left:78px;top:503px;width:33px;height:3px;background:#0c2350;border-top:1px solid #8d97ad;border-bottom:1px solid #8d97ad"></div>
<div class="a" style="left:110px;top:501.5px;width:6px;height:6px;border-radius:50%;background:#0c2350"></div>
<div class="callout" style="left:2px;top:484px;width:76px;height:41px"></div>
<div class="t" style="left:2px;top:497px;width:76px;text-align:center;font-size:16px;color:#fff">Legend</div>
<div class="a" style="left:1165px;top:359.5px;width:19px;height:3px;background:#0c2350;border-top:1px solid #8d97ad;border-bottom:1px solid #8d97ad"></div>
<div class="a" style="left:1159px;top:358px;width:6px;height:6px;border-radius:50%;background:#0c2350"></div>
<div class="callout" style="left:1183px;top:340px;width:78px;height:42px"></div>
<div class="t" style="left:1183px;top:353.5px;width:78px;text-align:center;font-size:16px;color:#fff">Toolbar</div>
</body></html>
